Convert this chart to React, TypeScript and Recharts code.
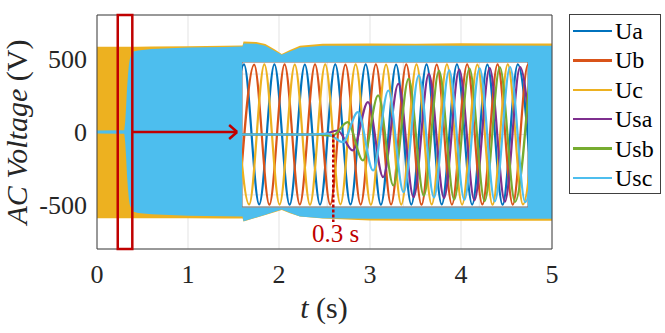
import React from "react";
import {
  Area,
  CartesianGrid,
  ComposedChart,
  Line,
  ReferenceArea,
  ReferenceLine,
  XAxis,
  YAxis,
} from "recharts";

const FONT = "'Liberation Serif', Tinos, 'DejaVu Serif', 'Noto Serif', FreeSerif, Times, serif";
const RED = "#C00000";
const AXIS = "#262626";

// series
const seriesNames = ["Ua", "Ub", "Uc", "Usa", "Usb", "Usc"];
const seriesColors = ["#0072BD", "#D95319", "#EDB120", "#7E2F8E", "#77AC30", "#4DBEEE"];

// main plot: the 50 Hz waveforms are too dense to see, so keep their envelope (V)
const envT = [0, 0.3, 0.31, 0.32, 0.33, 0.34, 0.35, 0.36, 0.38, 0.4, 0.45, 0.6, 1.0, 1.4, 1.6, 1.61, 1.75, 1.85, 1.95, 2.03, 2.12, 2.23, 2.48, 3.0, 3.5, 4.0, 4.5, 5.0];
const uTop = [583, 583, 583, 583, 583, 583, 583, 583, 583, 583, 583, 585, 587, 590, 592, 619, 615, 601, 565, 533, 560, 590, 603, 605, 604, 606, 605, 605];
const uBot = [-589, -589, -589, -589, -589, -589, -589, -589, -589, -589, -589, -590, -590, -591, -592, -612, -586, -567, -548, -533, -555, -578, -592, -605, -606, -607, -606, -607];
const usTop = [10, 12, 70, 175, 300, 385, 455, 497, 530, 550, 558, 568, 577, 582, 585, 605, 603, 590, 555, 529, 550, 578, 590, 590, 591, 590, 592, 590];
const usBot = [-10, -12, -70, -175, -300, -385, -455, -497, -528, -545, -553, -562, -572, -576, -578, -610, -584, -565, -546, -530, -552, -577, -590, -594, -594, -595, -594, -594];

const xTicks = [0, 1, 2, 3, 4, 5];
const yTicks = [-500, 0, 500];

// inset: one extremum per half cycle (10 ms), first extremum time per series
const HALF = 0.01;
const insetStart = [0.2353, 0.242, 0.2387, 0.2368, 0.2435, 0.2402];
const ua = [-578, 581, -579, 580, -581, 579, -580, 581, -579, 580, -581, 578, -580, 581, -579, 580, -580, 579, -581, 580, -579];
const ub = [-580, 579, -581, 580, -579, 581, -580, 578, -580, 581, -579, 580, -581, 579, -580, 580, -579, 581, -580, 579, -581];
const uc = [580, -579, 581, -580, 579, -581, 580, -578, 580, -581, 579, -580, 581, -579, 580, -580, 579, -581, 580, -579, 581];
const usa = [0, 0, 0, 0, 0, 0, 0, 33, -132, 268, -353, 420, -519, 502, -525, 538, -545, 550, -555, 558, -560];
const usb = [0, 0, 0, 0, 0, 0, -10, 102, -215, 323, -422, 461, -505, 527, -538, 546, -551, 555, -558, 560];
const usc = [0, 0, 0, 0, 0, 0, 8, -63, 185, -298, 364, -477, 489, -520, 530, -540, 548, -553, 557, -560, 562];
const insetTicksX = [0.25, 0.3, 0.35, 0.4];
const insetTicksY = [-500, 0, 500];

const envelope = envT.map((t, i) => ({
  t,
  u: [uBot[i], uTop[i]],
  us: [usBot[i], usTop[i]],
}));

const insetSeries = [ua, ub, uc, usa, usb, usc].map((vals, k) =>
  vals.map((v, i) => ({ t: +(insetStart[k] + i * HALF).toFixed(4), v }))
);

const tickStyle = { fontSize: 26, fill: AXIS, fontFamily: FONT };

const XLabel = () => (
  <text x={324} y={318} textAnchor="middle" fontSize={30} fill={AXIS} style={{ fontFamily: FONT }}>
    <tspan fontStyle="italic">t</tspan>
    <tspan>{" (s)"}</tspan>
  </text>
);

const YLabel = () => (
  <text
    x={27}
    y={132}
    transform="rotate(-90, 27, 132)"
    textAnchor="middle"
    fontSize={30}
    fill={AXIS}
    style={{ fontFamily: FONT }}
  >
    <tspan fontStyle="italic">AC Voltage</tspan>
    <tspan>{" (V)"}</tspan>
  </text>
);

export default function App() {
  return (
    <div
      style={{
        position: "absolute",
        left: 0,
        top: 0,
        width: 665,
        height: 333,
        background: "#fff",
        fontFamily: FONT,
      }}
    >
      <div style={{ position: "absolute", left: 0, top: 0 }}>
        <ComposedChart
          width={665}
          height={333}
          data={envelope}
          margin={{ top: 15, right: 113, bottom: 0, left: 0 }}
          style={{ fontFamily: FONT }}
        >
          <CartesianGrid stroke="#e3e3e3" />
          <XAxis
            dataKey="t"
            type="number"
            domain={[0, 5]}
            ticks={xTicks}
            interval={0}
            axisLine={false}
            tickLine={false}
            tickSize={0}
            tickMargin={16}
            height={84}
            tick={tickStyle}
            label={XLabel}
          />
          <YAxis
            type="number"
            domain={[-800, 800]}
            ticks={yTicks}
            interval={0}
            width={97}
            axisLine={false}
            tickLine={false}
            tickSize={0}
            tickMargin={10}
            tick={tickStyle}
            label={YLabel}
          />
          <Area
            dataKey="u"
            type="linear"
            fill={seriesColors[2]}
            fillOpacity={1}
            stroke="none"
            isAnimationActive={false}
          />
          <Area
            dataKey="us"
            type="linear"
            fill={seriesColors[5]}
            fillOpacity={1}
            stroke="none"
            isAnimationActive={false}
          />
          <ReferenceArea x1={0} x2={5} y1={-800} y2={800} fill="none" stroke="#404040" />
          <ReferenceArea
            x1={0.228}
            x2={0.388}
            y1={-800}
            y2={800}
            fill="none"
            stroke={RED}
            strokeWidth={2.5}
          />
          <ReferenceLine
            segment={[{ x: 0.388, y: 0 }, { x: 1.54, y: 0 }]}
            stroke={RED}
            strokeWidth={2.5}
          />
          <ReferenceLine
            segment={[{ x: 1.452, y: 48 }, { x: 1.54, y: 0 }]}
            stroke={RED}
            strokeWidth={2.5}
          />
          <ReferenceLine
            segment={[{ x: 1.452, y: -48 }, { x: 1.54, y: 0 }]}
            stroke={RED}
            strokeWidth={2.5}
          />
        </ComposedChart>
      </div>

      <div style={{ position: "absolute", left: 242, top: 62 }}>
        <ComposedChart width={286} height={175} margin={{ top: 0, right: 0, bottom: 30, left: 0 }}>
          <CartesianGrid fill="#fff" stroke="#e3e3e3" />
          <XAxis
            dataKey="t"
            type="number"
            domain={[0.244, 0.432]}
            allowDataOverflow
            ticks={insetTicksX}
            hide
          />
          <YAxis type="number" domain={[-600, 600]} allowDataOverflow ticks={insetTicksY} hide />
          {insetSeries.map((d, k) => (
            <Line
              key={seriesNames[k]}
              data={d}
              dataKey="v"
              type="monotone"
              stroke={seriesColors[k]}
              strokeWidth={2.2}
              dot={false}
              isAnimationActive={false}
            />
          ))}
          <ReferenceArea x1={0.244} x2={0.432} y1={-600} y2={600} fill="none" stroke="#6e6e6e" />
          <ReferenceLine
            segment={[{ x: 0.304, y: 0 }, { x: 0.304, y: -724 }]}
            stroke={RED}
            strokeWidth={2.5}
            strokeDasharray="3 2"
            ifOverflow="visible"
          />
        </ComposedChart>
      </div>

      <span
        style={{
          position: "absolute",
          left: 312,
          top: 221,
          fontSize: 25,
          lineHeight: 1,
          color: RED,
          whiteSpace: "pre",
        }}
      >
        0.3 s
      </span>

      <div
        style={{
          position: "absolute",
          left: 569,
          top: 14,
          width: 90,
          height: 178,
          border: "1px solid #404040",
          background: "#fff",
        }}
      >
        {seriesNames.map((name, i) => (
          <div
            key={name}
            style={{
              position: "absolute",
              left: 3,
              top: 4 + i * 29.4,
              height: 24,
              display: "flex",
              alignItems: "center",
            }}
          >
            <div style={{ width: 39, height: 2.5, background: seriesColors[i] }} />
            <span style={{ marginLeft: 3, fontSize: 24, lineHeight: 1, color: "#000" }}>{name}</span>
          </div>
        ))}
      </div>
    </div>
  );
}
